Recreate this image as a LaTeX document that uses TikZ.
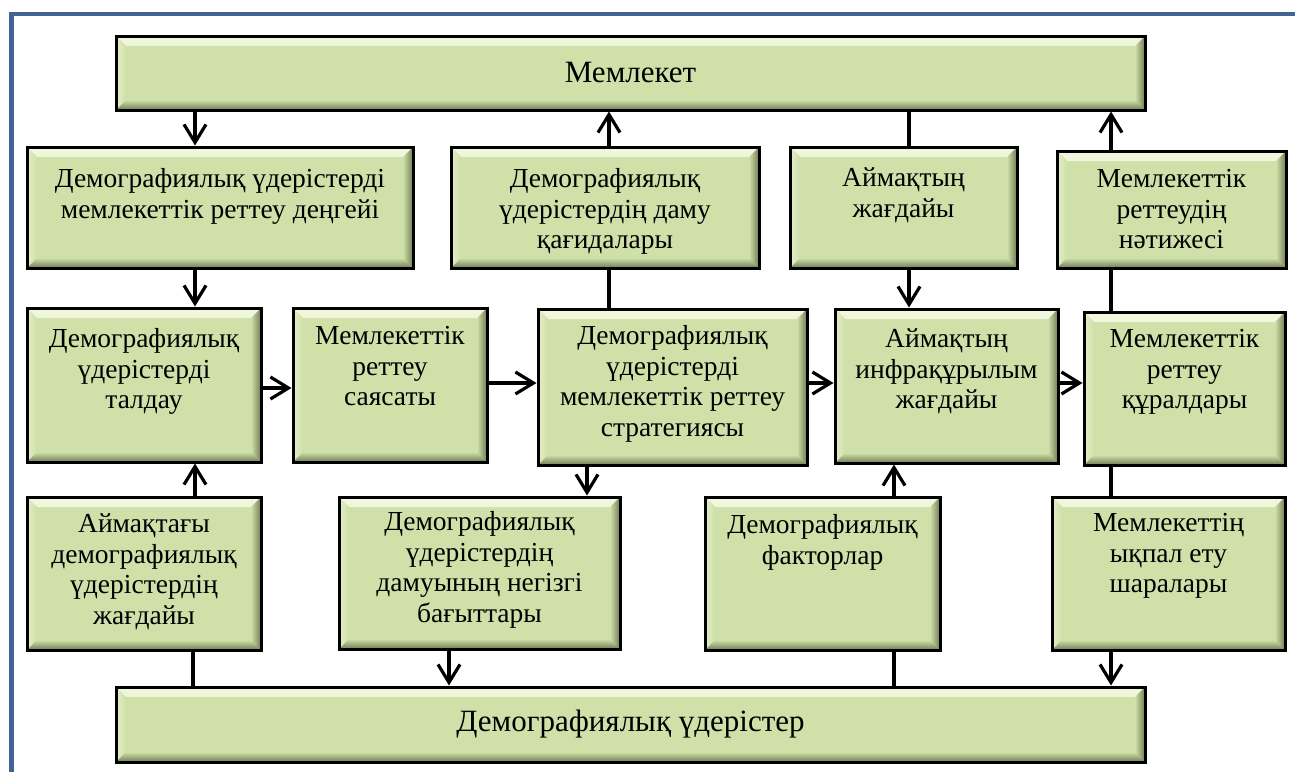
\documentclass[tikz,border=0pt]{standalone}
\usepackage{fontspec}
\setmainfont{Liberation Serif}
\usetikzlibrary{arrows.meta,calc}
\definecolor{boxgreen}{RGB}{207,224,168}
\definecolor{bevlight}{RGB}{242,247,222}
\definecolor{bevdark}{RGB}{112,124,86}
\definecolor{frameblue}{RGB}{66,100,148}
\tikzset{
  gbox/.style={draw=black, line width=3pt, fill=boxgreen, inner sep=0pt,
    path picture={
      \path[top color=bevlight, bottom color=boxgreen]
        (path picture bounding box.north west) -- (path picture bounding box.north east)
        -- ([shift={(-10pt,-10pt)}]path picture bounding box.north east)
        -- ([shift={(10pt,-10pt)}]path picture bounding box.north west) -- cycle;
      \path[left color=bevlight!60!boxgreen, right color=boxgreen]
        (path picture bounding box.north west) -- ([shift={(10pt,-10pt)}]path picture bounding box.north west)
        -- ([shift={(10pt,10pt)}]path picture bounding box.south west)
        -- (path picture bounding box.south west) -- cycle;
      \path[top color=boxgreen, bottom color=bevdark]
        (path picture bounding box.south west) -- ([shift={(10pt,10pt)}]path picture bounding box.south west)
        -- ([shift={(-10pt,10pt)}]path picture bounding box.south east)
        -- (path picture bounding box.south east) -- cycle;
      \path[left color=boxgreen, right color=bevdark]
        (path picture bounding box.north east) -- ([shift={(-10pt,-10pt)}]path picture bounding box.north east)
        -- ([shift={(-10pt,10pt)}]path picture bounding box.south east)
        -- (path picture bounding box.south east) -- cycle;
    }},
  btxt/.style={inner sep=0pt, align=center, anchor=north,
    font=\fontsize{27.5}{30.5}\selectfont},
  bigtxt/.style={font=\fontsize{31}{36}\selectfont},
  arr/.style={line width=3.2pt, -{Straight Barb[length=18pt,width=22pt]}},
  conn/.style={line width=3.2pt},
}
\begin{document}
\begin{tikzpicture}[x=1pt,y=-1pt]
\useasboundingbox (0,0) rectangle (1295,771);
\fill[white] (0,0) rectangle (1295,771);
\draw[frameblue, line width=4.7pt] (11.7,14) rectangle (1330,800);

% boxes
\node[gbox, bigtxt, minimum width=1029pt, minimum height=74pt] (top) at (630.5,73) {Мемлекет};
\node[gbox, minimum width=386pt, minimum height=121pt] (A) at (220,207.5) {};
\node[gbox, minimum width=308pt, minimum height=121pt] (B) at (605,207.5) {};
\node[gbox, minimum width=227pt, minimum height=121pt] (C) at (903.5,207.5) {};
\node[gbox, minimum width=229pt, minimum height=117pt] (D) at (1171.5,209.5) {};
\node[gbox, minimum width=234pt, minimum height=154pt] (E) at (144,385) {};
\node[gbox, minimum width=194pt, minimum height=154pt] (F) at (390,385) {};
\node[gbox, minimum width=269pt, minimum height=156pt] (G) at (672.5,387) {};
\node[gbox, minimum width=223pt, minimum height=154pt] (H) at (946.5,386) {};
\node[gbox, minimum width=201pt, minimum height=153pt] (I) at (1184.5,388.5) {};
\node[gbox, minimum width=234pt, minimum height=153pt] (J) at (144,573.5) {};
\node[gbox, minimum width=281pt, minimum height=152pt] (K) at (479.5,573) {};
\node[gbox, minimum width=235pt, minimum height=153pt] (L) at (822.5,573.5) {};
\node[gbox, minimum width=233pt, minimum height=153pt] (M) at (1168.5,573.5) {};
\node[gbox, bigtxt, minimum width=1029pt, minimum height=75pt] (bot) at (630.5,724.5) {Демографиялық үдерістер};

% texts
\node[btxt] (At) at (220,168.5) {Демографиялық үдерістерді\\мемлекеттік реттеу деңгейі};
\node[btxt] (Bt) at (605,168.5) {Демографиялық\\үдерістердің даму\\қағидалары};
\node[btxt] (Ct) at (903.5,167.5) {Аймақтың\\жағдайы};
\node[btxt] (Dt) at (1171.5,169.5) {Мемлекеттік\\реттеудің\\нәтижесі};
\node[btxt] (Et) at (144,328.5) {Демографиялық\\үдерістерді\\талдау};
\node[btxt] (Ft) at (390,326.5) {Мемлекеттік\\реттеу\\саясаты};
\node[btxt] (Gt) at (672.5,325.5) {Демографиялық\\үдерістерді\\мемлекеттік реттеу\\стратегиясы};
\node[btxt] (Ht) at (946.5,328.5) {Аймақтың\\инфрақұрылым\\жағдайы};
\node[btxt] (It) at (1184.5,329.5) {Мемлекеттік\\реттеу\\құралдары};
\node[btxt] (Jt) at (144,513.5) {Аймақтағы\\демографиялық\\үдерістердің\\жағдайы};
\node[btxt] (Kt) at (479.5,511.5) {Демографиялық\\үдерістердің\\дамуының негізгі\\бағыттары};
\node[btxt] (Lt) at (822.5,514.5) {Демографиялық\\факторлар};
\node[btxt] (Mt) at (1168.5,513.5) {Мемлекеттің\\ықпал ету\\шаралары};

% connector columns / rows
\coordinate (xa) at (195,0);
\coordinate (xj) at (193,0);
\coordinate (xb) at (609,0);
\coordinate (xc) at (909,0);
\coordinate (xd) at (1111,0);
\coordinate (xg) at (587,0);
\coordinate (xk) at (449,0);
\coordinate (xl) at (894,0);
\coordinate (yef) at (0,388);
\coordinate (ymid) at (0,383);

% connectors
\draw[arr] (top.south -| xa) -- (A.north -| xa);
\draw[arr] (B.north -| xb) -- (top.south -| xb);
\draw[conn] (G.north -| xb) -- (B.south -| xb);
\draw[conn] (top.south -| xc) -- (C.north -| xc);
\draw[arr] (C.south -| xc) -- (H.north -| xc);
\draw[arr] (D.north -| xd) -- (top.south -| xd);
\draw[conn] (I.north -| xd) -- (D.south -| xd);
\draw[arr] (A.south -| xa) -- (E.north -| xa);
\draw[arr] (E.east |- yef) -- (F.west |- yef);
\draw[arr] (F.east |- ymid) -- (G.west |- ymid);
\draw[arr] (G.east |- ymid) -- (H.west |- ymid);
\draw[arr] (H.east |- ymid) -- (I.west |- ymid);
\draw[arr] (J.north -| xa) -- (E.south -| xa);
\draw[arr] (G.south -| xg) -- (K.north -| xg);
\draw[arr] (L.north -| xl) -- (H.south -| xl);
\draw[conn] (I.south -| xd) -- (M.north -| xd);
\draw[conn] (J.south -| xj) -- (bot.north -| xj);
\draw[arr] (K.south -| xk) -- (bot.north -| xk);
\draw[conn] (L.south -| xl) -- (bot.north -| xl);
\draw[arr] (M.south -| xd) -- (bot.north -| xd);
\end{tikzpicture}
\end{document}
